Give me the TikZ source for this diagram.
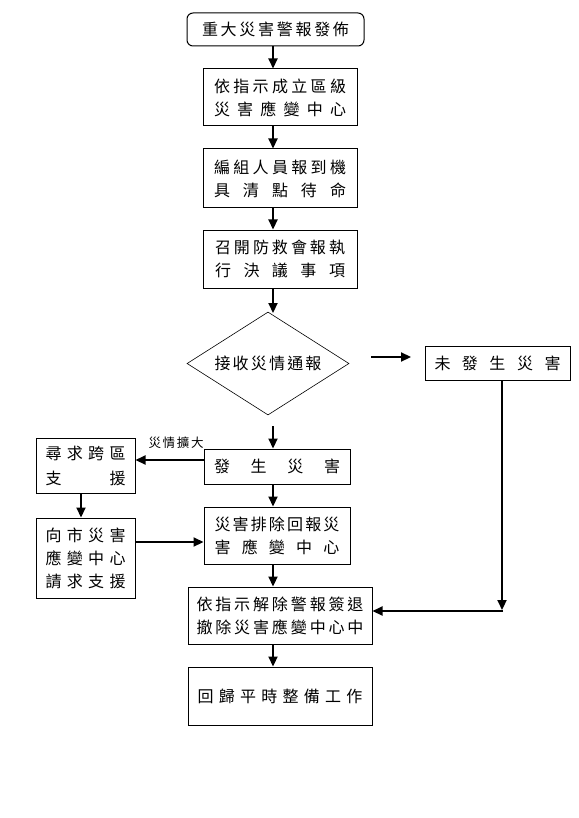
\documentclass[tikz,border=0pt]{standalone}
\usepackage{fontspec}
\setmainfont{Noto Sans CJK TC}
\usetikzlibrary{shapes.geometric,arrows.meta}
\makeatletter
\def\sprd#1{\sprdA#1\relax}
\def\sprdA#1{#1\futurelet\sprdnext\sprdB}
\def\sprdB{\ifx\sprdnext\relax\expandafter\@gobble\else\hfill\expandafter\sprdA\fi}
\makeatother
\newcommand\jline[2]{\hbox to #1pt{\sprd{#2}}}
\begin{document}
\begin{tikzpicture}[x=1pt,y=-1pt,
  box/.style={draw, line width=1pt, inner sep=0pt, align=center,
    font=\fontsize{16}{23}\selectfont},
  arr/.style={line width=2.2pt, -{Triangle[length=10pt,width=9pt]}},
  lbl/.style={inner sep=0pt, font=\fontsize{12.5}{14}\selectfont}]
\fill[white] (0,0) rectangle (578,818);
\useasboundingbox (0,0) rectangle (578,818);
% nodes
\node[box, rounded corners=6pt, minimum width=177pt, minimum height=33pt] (top) at (275.5,29.5) {\jline{147}{重大災害警報發佈}};
\node[box, minimum width=154pt, minimum height=57pt] (b2) at (280,97.5) {\jline{132}{依指示成立區級}\\\jline{132}{災害應變中心}};
\node[box, minimum width=154pt, minimum height=59pt] (b3) at (280,178.5) {\jline{132}{編組人員報到機}\\\jline{132}{具清點待命}};
\node[box, minimum width=154pt, minimum height=58pt] (b4) at (280,259) {\jline{130}{召開防救會報執}\\\jline{130}{行決議事項}};
\node[box, shape=diamond, line width=0.6pt, aspect=1.57, minimum width=162pt, minimum height=103pt] (dia) at (268,363.5) {\jline{107}{接收災情通報}};
\node[box, minimum width=145pt, minimum height=34pt] (nd) at (497.5,363) {\jline{126}{未發生災害}};
\node[box, minimum width=146pt, minimum height=35pt] (occ) at (277,466.5) {\jline{126}{發生災害}};
\node[box, minimum width=99pt, minimum height=55pt] (help) at (85.5,465.5) {\jline{80}{尋求跨區}\\[2pt]\jline{80}{支援}};
\node[box, minimum width=99pt, minimum height=80pt] (city) at (85.5,558) {\jline{80}{向市災害}\\\jline{80}{應變中心}\\\jline{80}{請求支援}};
\node[box, minimum width=146pt, minimum height=57pt] (clr) at (277,535.5) {\jline{125}{災害排除回報災}\\\jline{125}{害應變中心}};
\node[box, minimum width=184pt, minimum height=57pt] (b7) at (280,615.5) {\jline{167}{依指示解除警報簽退}\\\jline{167}{撤除災害應變中心中}};
\node[box, minimum width=184pt, minimum height=58pt] (b8) at (280,696) {\jline{165}{回歸平時整備工作}};
\node[lbl] (lab) at (176,443) {\jline{55}{災情擴大}};
% coordinates
\coordinate (ax) at (273,0);
\coordinate (diatop) at (273,313);
\coordinate (diabot) at (273,426);
\coordinate (fa) at (371,357);
\coordinate (fb) at (411,357);
\coordinate (corner) at (502,611);
\coordinate (hy) at (0,460);
\coordinate (cy) at (0,542);
\coordinate (lx) at (81,0);
% connectors
\draw[arr] (top.south -| ax) -- (b2.north -| ax);
\draw[arr] (b2.south -| ax) -- (b3.north -| ax);
\draw[arr] (b3.south -| ax) -- (b4.north -| ax);
\draw[arr] (b4.south -| ax) -- (diatop);
\draw[arr] (fa) -- (fb);
\draw[arr] (diabot) -- (occ.north -| ax);
\draw[arr] (occ.west |- hy) -- (help.east |- hy);
\draw[arr] (help.south -| lx) -- (city.north -| lx);
\draw[arr] (city.east |- cy) -- (clr.west |- cy);
\draw[arr] (occ.south -| ax) -- (clr.north -| ax);
\draw[arr] (clr.south -| ax) -- (b7.north -| ax);
\draw[arr] (b7.south -| ax) -- (b8.north -| ax);
\draw[arr] (nd.south -| corner) -- ([yshift=1pt]corner);
\draw[arr] ([xshift=1.1pt]corner) -- (corner -| b7.east);
\end{tikzpicture}
\end{document}
